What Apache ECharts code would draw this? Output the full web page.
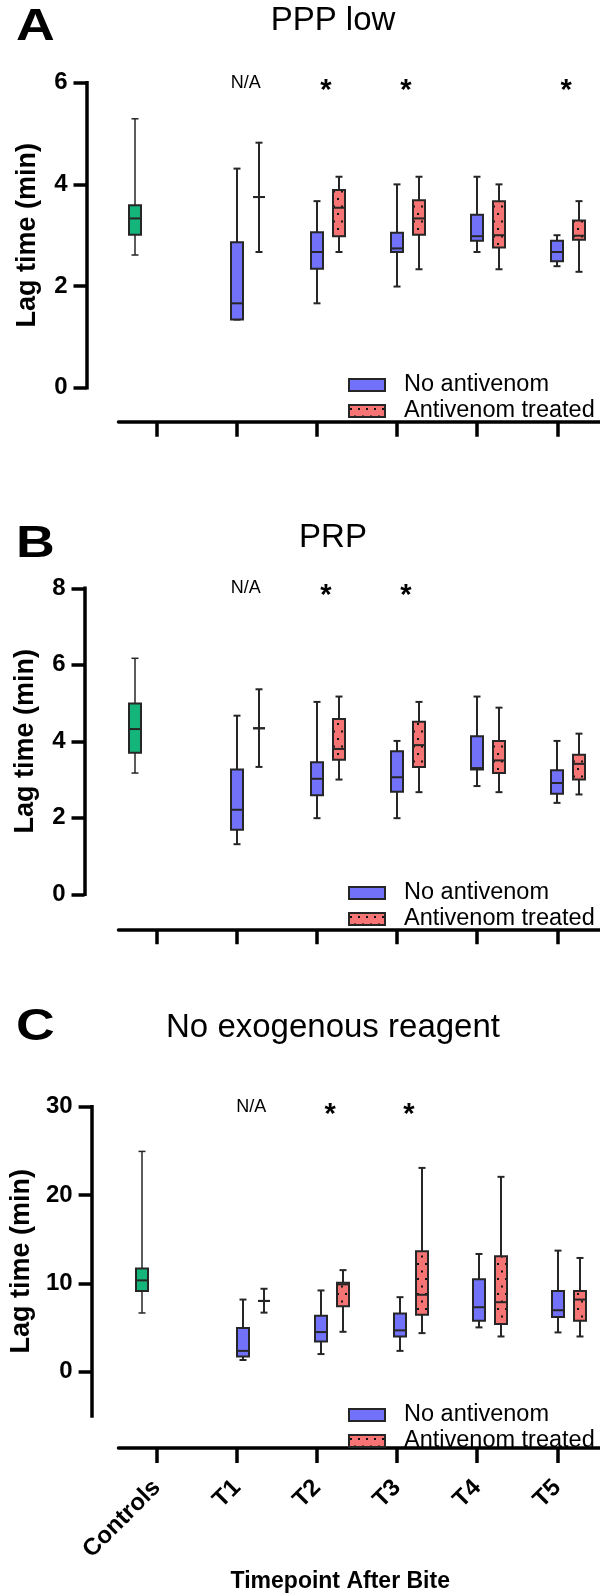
<!DOCTYPE html>
<html><head><meta charset="utf-8">
<script src="https://cdn.jsdelivr.net/npm/echarts@6/dist/echarts.min.js"></script>
<style>html,body{margin:0;padding:0;background:#fff}#c{width:600px;height:1596px}</style>
</head><body><div id="c"></div>
<script>
// ---------------- DATA ----------------
const categories = ['Controls', 'T1', 'T2', 'T3', 'T4', 'T5'];
const panelLetters = ['A', 'B', 'C'];
const panelTitles = ['PPP low', 'PRP', 'No exogenous reagent'];
const seriesNames = ['No antivenom', 'Antivenom treated'];
const yAxisTitle = 'Lag time (min)';
const xAxisTitle = 'Timepoint After Bite';
// each box: [min, Q1, median, Q3, max]
const ctrlA = [2.61, 3.01, 3.33, 3.59, 5.29];
const noAvA = [[1.34, 1.34, 1.66, 2.86, 4.31], [1.66, 2.34, 2.67, 3.06, 3.67], [1.99, 2.67, 2.74, 3.05, 4.00], [2.67, 2.89, 2.98, 3.40, 4.15], [2.39, 2.49, 2.67, 2.89, 3.00]];
const avA = [[2.67, 3.75, 3.75, 3.75, 4.82], [2.67, 2.98, 3.54, 3.89, 4.15], [2.33, 3.01, 3.33, 3.69, 4.15], [2.33, 2.76, 3.00, 3.67, 4.00], [2.28, 2.91, 2.99, 3.29, 3.67]];
const ctrlB = [3.17, 3.70, 4.32, 4.99, 6.17];
const noAvB = [[1.31, 1.69, 2.21, 3.26, 4.67], [1.99, 2.59, 3.02, 3.45, 5.03], [1.99, 2.68, 3.06, 3.74, 4.01], [2.83, 3.26, 3.30, 4.13, 5.17], [2.39, 2.63, 2.91, 3.24, 4.01]];
const avB = [[3.33, 4.34, 4.34, 4.34, 5.36], [3.00, 3.52, 3.80, 4.58, 5.17], [2.67, 3.33, 3.90, 4.51, 5.03], [2.67, 3.17, 3.50, 4.01, 4.88], [2.61, 3.00, 3.41, 3.65, 4.20]];
const ctrlC = [6.65, 9.13, 10.34, 11.69, 24.94];
const noAvC = [[1.33, 1.71, 2.36, 4.94, 8.17], [2.00, 3.42, 4.49, 6.35, 9.20], [2.36, 3.99, 4.68, 6.58, 8.44], [5.02, 5.78, 7.30, 10.46, 13.33], [4.45, 6.20, 6.96, 9.13, 13.71]];
const avC = [[6.69, 8.02, 8.02, 8.02, 9.39], [4.52, 7.41, 9.89, 10.08, 11.50], [4.37, 6.46, 8.71, 13.63, 23.07], [3.99, 5.40, 7.87, 13.07, 22.06], [3.99, 5.78, 8.17, 9.13, 12.88]];
// annotations: category index and text
const annCatA = [1, 2, 3, 5], annTextA = ['N/A', '*', '*', '*'];
const annCatB = [1, 2, 3], annTextB = ['N/A', '*', '*'];
const annCatC = [1, 2, 3], annTextC = ['N/A', '*', '*'];
// y axis ranges and tick labels
const yRangeA = [0, 6], yTicksA = [0, 2, 4, 6];
const yRangeB = [0, 8], yTicksB = [0, 2, 4, 6, 8];
const yRangeC = [-5, 30], yTicksC = [0, 10, 20, 30];

// ---------------- LAYOUT / STYLE ----------------
const W = 600;
const TICK0 = 156.8, UNIT = 80.1;     // pixel of first category tick, pixels per category
const PAIR_OFF = 22 / UNIT;           // offset of red box (and green box, negative)
const ANN_OFF = 0.11;
const BOX_W = 12, CAP_W = 7;
const FONT = '"Liberation Sans", Arial, Helvetica, sans-serif';
const C_BLUE = '#7171FA', C_RED = '#F77474', C_GREEN = '#14B57A', STROKE = '#262626';
const layout = [
  { axisX: 86.5, top: 82.7, bottom: 387.7, lineY: 421.7, letterTop: 6, titleTop: 4, legendTop: 368 },
  { axisX: 84.5, top: 588.3, bottom: 894.3, lineY: 929.3, letterTop: 523, titleTop: 521, legendTop: 876 },
  { axisX: 83.5, top: 1106.7, bottom: 1415.9, lineY: 1448, letterTop: 1006, titleTop: 1011, legendTop: 1398 }
];

function makeDots(bg) {
  const c = document.createElement('canvas'); c.width = 8; c.height = 15;
  const g = c.getContext('2d');
  g.fillStyle = bg; g.fillRect(0, 0, 8, 15);
  g.fillStyle = '#111';
  g.fillRect(1, 3, 2, 2);
  g.fillRect(5, 10.5, 2, 2);
  return c;
}
const redPattern = { image: makeDots(C_RED), repeat: 'repeat' };

function boxRenderer(fill, thin) {
  return function (params, api) {
    const x = api.value(0);
    const pMin = api.coord([x, api.value(1)]);
    const pQ1 = api.coord([x, api.value(2)]);
    const pMed = api.coord([x, api.value(3)]);
    const pQ3 = api.coord([x, api.value(4)]);
    const pMax = api.coord([x, api.value(5)]);
    const cx = Math.round(pMin[0]);
    const h = BOX_W / 2, c = CAP_W / 2;
    const wl = { stroke: STROKE, lineWidth: thin ? 1.5 : 2 };
    return {
      type: 'group', children: [
        { type: 'line', shape: { x1: cx, y1: pMax[1], x2: cx, y2: pMin[1] }, style: wl },
        { type: 'line', shape: { x1: cx - c, y1: pMax[1], x2: cx + c, y2: pMax[1] }, style: wl },
        { type: 'line', shape: { x1: cx - c, y1: pMin[1], x2: cx + c, y2: pMin[1] }, style: wl },
        { type: 'rect', shape: { x: cx - h, y: pQ3[1], width: BOX_W, height: pQ1[1] - pQ3[1] }, style: { fill: fill, stroke: STROKE, lineWidth: 2 } },
        { type: 'line', shape: { x1: cx - h, y1: pMed[1], x2: cx + h, y2: pMed[1] }, style: { stroke: STROKE, lineWidth: 2 } }
      ]
    };
  };
}

const panels = [
  { ctrl: ctrlA, noAv: noAvA, av: avA, annCat: annCatA, annText: annTextA, yRange: yRangeA, yTicks: yTicksA },
  { ctrl: ctrlB, noAv: noAvB, av: avB, annCat: annCatB, annText: annTextB, yRange: yRangeB, yTicks: yTicksB },
  { ctrl: ctrlC, noAv: noAvC, av: avC, annCat: annCatC, annText: annTextC, yRange: yRangeC, yTicks: yTicksC }
];

const option = { animation: false, grid: [], xAxis: [], yAxis: [], series: [], legend: [], graphic: [] };
const catIdx = categories.map((c, i) => i);

panels.forEach((p, k) => {
  const L = layout[k];
  const isLast = k === panels.length - 1;
  // plot grid
  const gPlot = option.grid.length;
  option.grid.push({ left: L.axisX, right: 0, top: L.top, height: L.bottom - L.top });
  option.xAxis.push({ type: 'value', gridIndex: gPlot, show: false, min: (L.axisX - TICK0) / UNIT, max: (W - TICK0) / UNIT });
  option.yAxis.push({
    type: 'value', gridIndex: gPlot, min: p.yRange[0], max: p.yRange[1],
    axisLine: { show: true, onZero: false, lineStyle: { color: '#000', width: 3.5, cap: 'square' } },
    axisTick: { show: true, length: 13, customValues: p.yTicks, lineStyle: { color: '#000', width: 3.5 } },
    axisLabel: { customValues: p.yTicks, margin: 19, color: '#000', fontFamily: FONT, fontWeight: 'bold', fontSize: 24 },
    splitLine: { show: false },
    name: yAxisTitle, nameLocation: 'middle', nameGap: 45,
    nameTextStyle: { color: '#000', fontFamily: FONT, fontWeight: 'bold', fontSize: 27 }
  });
  // detached category axis grid
  const gAx = option.grid.length;
  option.grid.push({ left: 118.5, right: 0, top: L.lineY - 1, height: 1 });
  option.xAxis.push({
    type: 'value', gridIndex: gAx, min: (118.5 - TICK0) / UNIT, max: (W - TICK0) / UNIT,
    axisLine: { show: true, onZero: false, lineStyle: { color: '#000', width: 3.5 } },
    axisTick: { show: true, length: 15, customValues: catIdx, lineStyle: { color: '#000', width: 3.5 } },
    axisLabel: isLast ? {
      show: true, customValues: catIdx, rotate: 45, margin: 36,
      formatter: v => categories[Math.round(v)],
      color: '#000', fontFamily: FONT, fontWeight: 'bold', fontSize: 24
    } : { show: false },
    splitLine: { show: false },
    name: isLast ? xAxisTitle : '', nameLocation: 'middle', nameGap: 122,
    nameTextStyle: { color: '#000', fontFamily: FONT, fontWeight: 'bold', fontSize: 23, padding: [0, 38, 0, 0] }
  });
  option.yAxis.push({ type: 'value', gridIndex: gAx, show: false, min: 0, max: 1 });

  const ax = { xAxisIndex: k * 2, yAxisIndex: k * 2 };
  option.series.push(Object.assign({
    type: 'custom', name: 'Controls', clip: false,
    itemStyle: { color: C_GREEN },
    encode: { x: 0, y: [1, 2, 3, 4, 5] },
    renderItem: boxRenderer(C_GREEN, true),
    data: [[0 - PAIR_OFF].concat(p.ctrl)]
  }, ax));
  option.series.push(Object.assign({
    type: 'custom', name: seriesNames[0], clip: false,
    itemStyle: { color: C_BLUE, borderColor: STROKE, borderWidth: 2 },
    encode: { x: 0, y: [1, 2, 3, 4, 5] },
    renderItem: boxRenderer(C_BLUE, false),
    data: p.noAv.map((b, i) => [i + 1].concat(b))
  }, ax));
  option.series.push(Object.assign({
    type: 'custom', name: seriesNames[1], clip: false,
    itemStyle: { color: redPattern, borderColor: STROKE, borderWidth: 2 },
    encode: { x: 0, y: [1, 2, 3, 4, 5] },
    renderItem: boxRenderer(redPattern, false),
    data: p.av.map((b, i) => [i + 1 + PAIR_OFF].concat(b))
  }, ax));
  // annotations
  option.series.push(Object.assign({
    type: 'custom', name: 'annot', clip: false, silent: true,
    encode: { x: 0, y: 1 },
    renderItem: function (params, api) {
      const t = p.annText[params.dataIndex];
      const pt = api.coord([api.value(0), api.value(1)]);
      const star = t === '*';
      return {
        type: 'text', x: pt[0], y: pt[1] + (star ? 8 : 0),
        style: {
          text: t, fill: '#000', align: 'center', verticalAlign: 'middle',
          font: (star ? 'bold 29px ' : '18px ') + FONT
        }
      };
    },
    data: p.annCat.map(c => [c + ANN_OFF, p.yRange[1]])
  }, ax));

  option.legend.push({
    orient: 'vertical', left: 343, top: L.legendTop, icon: 'rect',
    itemWidth: 36, itemHeight: 12, itemGap: 2, selectedMode: false,
    itemStyle: { borderColor: STROKE, borderWidth: 2 },
    textStyle: { color: '#000', fontFamily: FONT, fontSize: 23.5, lineHeight: 22, padding: [0, 0, 0, 14] },
    data: seriesNames
  });

  option.graphic.push({
    type: 'text', x: 16, y: L.letterTop, scaleX: 1.22,
    style: { text: panelLetters[k], font: 'bold 44px ' + FONT, fill: '#000', align: 'left', verticalAlign: 'top' }
  });
  option.graphic.push({
    type: 'text', x: 333, y: L.titleTop,
    style: { text: panelTitles[k], font: '33px ' + FONT, fill: '#000', align: 'center', verticalAlign: 'top' }
  });
});

const chart = echarts.init(document.getElementById('c'), null, { renderer: 'canvas', width: 600, height: 1596 });
chart.setOption(option);
</script>
</body></html>
